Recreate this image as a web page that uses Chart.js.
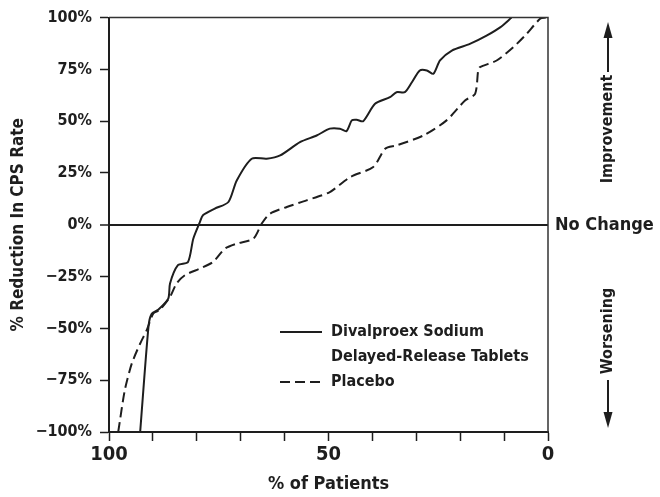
<!DOCTYPE html>
<html>
<head>
<meta charset="utf-8">
<script src="https://cdn.jsdelivr.net/npm/chart.js@4/dist/chart.umd.min.js"></script>
<style>
  html,body{margin:0;padding:0;background:#fff;}
  #wrap{width:660px;height:497px;position:relative;}
</style>
</head>
<body>
<div id="wrap"><canvas id="c" width="660" height="497"></canvas></div>
<script>
// ---- Data ----
const divalproexX = [92.9, 91.0, 90.3, 88.8, 86.5, 86.1, 84.3, 82.0, 80.8, 79.3, 78.6, 75.9, 72.8, 70.9, 67.5, 64.1, 61.0, 56.5, 52.7, 49.7, 47.4, 45.9, 44.7, 43.6, 42.1, 39.4, 36.0, 34.5, 32.6, 31.0, 29.2, 27.6, 26.1, 24.6, 21.9, 17.8, 14.0, 10.9, 8.3];
const divalproexY = [-100, -49, -43, -41, -35.6, -28.3, -19.5, -17.9, -6.7, 1.3, 4.6, 7.8, 11, 21.4, 31.9, 31.9, 33.5, 39.9, 43.1, 46.4, 46.4, 45.2, 50.4, 50.7, 50.0, 58.4, 61.6, 64, 64, 68.8, 74.5, 74.5, 72.9, 79.3, 84.1, 87.3, 91.3, 95.3, 100];
const placeboX = [97.9, 96.4, 94.8, 92.9, 91.4, 89.9, 88.5, 86.1, 84.6, 82.7, 79.3, 76.3, 73.6, 70.9, 67.1, 65.2, 63.3, 59.5, 55.0, 49.7, 45.1, 39.8, 37.1, 34.5, 28.4, 23.1, 18.9, 16.6, 15.9, 15.5, 11.7, 7.9, 4.9, 1.8, 0.5];
const placeboY = [-100, -79.8, -66.9, -57.3, -50.8, -42.8, -41.2, -34.8, -28.3, -24.3, -21.1, -17.9, -11.5, -9.1, -6.7, 0.6, 5.4, 8.6, 11.8, 15.8, 23.0, 27.9, 36.7, 38.3, 43.1, 50.4, 60, 63.2, 74.5, 76.1, 79.3, 85.7, 92.1, 99.4, 100];
const xTickLabels = [100, 50, 0];
const seriesNames = ["Divalproex Sodium\nDelayed-Release Tablets", "Placebo"];
const xTitle = "% of Patients";
const yTitle = "% Reduction In CPS Rate";
const sideNotes = ["Improvement", "No Change", "Worsening"];

const FONT = "'DejaVu Sans Condensed', 'Liberation Sans Narrow', 'Liberation Sans', sans-serif";
const INK = '#1e1e1e';

const toPts = (xs, ys) => xs.map((x, i) => ({x, y: ys[i]}));

const annot = {
  id: 'annot',
  afterDraw(chart) {
    const ctx = chart.ctx, a = chart.chartArea;
    ctx.save();
    ctx.strokeStyle = '#333';
    ctx.lineWidth = 1.5;
    ctx.beginPath();
    ctx.moveTo(a.left, a.top); ctx.lineTo(a.right, a.top); ctx.lineTo(a.right, a.bottom);
    ctx.stroke();

    ctx.fillStyle = INK;
    ctx.strokeStyle = INK;
    ctx.font = "bold 16px " + FONT;
    ctx.textBaseline = 'middle';
    ctx.textAlign = 'left';
    const lx0 = 280, lx1 = 322, tx = 331;
    const l1 = seriesNames[0].split('\n');
    ctx.lineWidth = 2;
    ctx.setLineDash([]);
    ctx.beginPath(); ctx.moveTo(lx0, 332); ctx.lineTo(lx1, 332); ctx.stroke();
    ctx.fillText(l1[0], tx, 332);
    ctx.fillText(l1[1], tx, 357);
    ctx.setLineDash([10, 5]);
    ctx.beginPath(); ctx.moveTo(lx0, 382); ctx.lineTo(lx1, 382); ctx.stroke();
    ctx.setLineDash([]);
    ctx.fillText(seriesNames[1], tx, 382);

    ctx.font = "bold 18px " + FONT;
    ctx.fillText(sideNotes[1], 555, 225);

    const cx = 608;
    ctx.font = "bold 16px " + FONT;
    ctx.save();
    ctx.translate(cx, 129); ctx.rotate(-Math.PI / 2);
    ctx.textAlign = 'center';
    ctx.fillText(sideNotes[0], 0, 0);
    ctx.restore();
    ctx.lineWidth = 2;
    ctx.beginPath(); ctx.moveTo(cx, 72); ctx.lineTo(cx, 36); ctx.stroke();
    ctx.beginPath(); ctx.moveTo(cx, 22); ctx.lineTo(cx - 4.5, 38); ctx.lineTo(cx + 4.5, 38); ctx.closePath(); ctx.fill();

    ctx.save();
    ctx.translate(cx, 331); ctx.rotate(-Math.PI / 2);
    ctx.textAlign = 'center';
    ctx.fillText(sideNotes[2], 0, 0);
    ctx.restore();
    ctx.beginPath(); ctx.moveTo(cx, 380); ctx.lineTo(cx, 414); ctx.stroke();
    ctx.beginPath(); ctx.moveTo(cx, 428); ctx.lineTo(cx - 4.5, 412); ctx.lineTo(cx + 4.5, 412); ctx.closePath(); ctx.fill();
    ctx.restore();
  }
};

new Chart(document.getElementById('c'), {
  type: 'line',
  data: {
    datasets: [
      {
        label: seriesNames[0],
        data: toPts(divalproexX, divalproexY),
        borderColor: INK, borderWidth: 2, pointRadius: 0, tension: 0.25, fill: false
      },
      {
        label: seriesNames[1],
        data: toPts(placeboX, placeboY),
        borderColor: INK, borderWidth: 2, borderDash: [10, 5], pointRadius: 0, tension: 0.25, fill: false
      }
    ]
  },
  options: {
    responsive: false,
    animation: false,
    devicePixelRatio: 1,
    layout: { padding: { left: 0, right: 112, top: 17, bottom: 0 } },
    plugins: { legend: { display: false }, tooltip: { enabled: false } },
    scales: {
      x: {
        type: 'linear', reverse: true, min: 0, max: 100,
        afterFit(s) { s.height = 65; },
        ticks: {
          stepSize: 10, autoSkip: false, maxRotation: 0, padding: 2,
          color: INK, font: { family: FONT, size: 20, weight: 'bold' },
          callback: v => xTickLabels.includes(v) ? String(v) : ''
        },
        grid: { drawOnChartArea: false, tickLength: 9, tickColor: INK, tickWidth: 1.5 },
        border: { display: true, color: INK, width: 2 },
        title: { display: true, text: xTitle, color: INK, font: { family: FONT, size: 18, weight: 'bold' }, padding: { top: 0, bottom: 2 } }
      },
      y: {
        min: -100, max: 100,
        afterFit(s) { s.width = 109; },
        ticks: {
          stepSize: 25, padding: 8, color: INK,
          font: { family: FONT, size: 16, weight: 'bold' },
          callback: v => (v < 0 ? '\u2212' + Math.abs(v) : v) + '%'
        },
        grid: {
          drawOnChartArea: true, tickLength: 9, tickColor: INK, tickWidth: 1.5,
          color: c => (c.tick && c.tick.value === 0) ? INK : 'rgba(0,0,0,0)',
          lineWidth: c => (c.tick && c.tick.value === 0) ? 2 : 1
        },
        border: { display: true, color: INK, width: 2 },
        title: { display: true, text: yTitle, color: INK, font: { family: FONT, size: 17, weight: 'bold' }, padding: { top: 8, bottom: 0 } }
      }
    }
  },
  plugins: [annot]
});
</script>
</body>
</html>
